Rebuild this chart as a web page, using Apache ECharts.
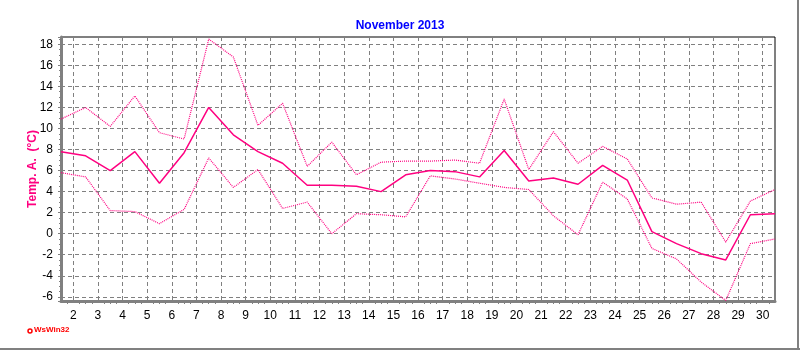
<!DOCTYPE html>
<html>
<head>
<meta charset="utf-8">
<script src="https://cdn.jsdelivr.net/npm/echarts@6/dist/echarts.min.js"></script>
<style>
  html, body { margin: 0; padding: 0; background: #fff; }
  #chart { width: 800px; height: 350px; }
</style>
</head>
<body>
<div id="chart"></div>
<script>
// readings taken at mid-day, November 2013
const days = [1.5, 2.5, 3.5, 4.5, 5.5, 6.5, 7.5, 8.5, 9.5, 10.5,
  11.5, 12.5, 13.5, 14.5, 15.5, 16.5, 17.5, 18.5, 19.5, 20.5,
  21.5, 22.5, 23.5, 24.5, 25.5, 26.5, 27.5, 28.5, 29.5, 30.5];

const tempMean = [7.8, 7.4, 6.0, 7.8, 4.8, 7.7, 12.0, 9.4, 7.8, 6.7,
  4.6, 4.6, 4.5, 4.0, 5.6, 6.0, 5.9, 5.4, 7.9, 5.0,
  5.3, 4.7, 6.5, 5.1, 0.2, -0.95, -1.9, -2.5, 1.8, 1.9];

const tempMax = [10.9, 12.0, 10.2, 13.1, 9.6, 9.0, 18.5, 16.8, 10.3, 12.4,
  6.4, 8.7, 5.6, 6.8, 6.9, 6.9, 7.0, 6.7, 12.8, 6.1,
  9.7, 6.7, 8.3, 7.1, 3.4, 2.8, 3.0, -0.8, 3.1, 4.2];

const tempMin = [5.8, 5.4, 2.2, 2.1, 0.95, 2.3, 7.2, 4.4, 6.1, 2.4,
  3.0, 0.0, 1.9, 1.8, 1.6, 5.5, 5.2, 4.8, 4.4, 4.2,
  1.7, -0.1, 4.9, 3.3, -1.4, -2.4, -4.6, -6.35, -0.95, -0.5];

const pink = '#FF0080';
const font = 'Liberation Sans, Arial, sans-serif';

const pairs = vals => days.map((d, i) => [d, vals[i]]);

const chart = echarts.init(document.getElementById('chart'));
chart.setOption({
  animation: false,
  backgroundColor: '#fff',
  title: {
    text: 'November 2013',
    left: 'center',
    top: 15,
    textStyle: { color: '#0000FF', fontSize: 12, fontWeight: 'bold', fontFamily: font }
  },
  grid: {
    left: 61, right: 25, top: 37, bottom: 49,
    show: true, borderColor: '#000', borderWidth: 1
  },
  xAxis: {
    type: 'value',
    min: 1.5,
    max: 30.5,
    splitNumber: 30,
    axisLine: { onZero: false, lineStyle: { color: '#808080', width: 3 } },
    axisTick: { show: false },
    minorTick: { show: true, splitNumber: 4, length: 3, lineStyle: { color: '#808080' } },
    axisLabel: {
      color: '#000', fontSize: 12, fontFamily: font, margin: 9,
      formatter: v => (Number.isInteger(v) ? String(v) : '')
    },
    splitLine: { show: true, lineStyle: { color: '#808080', type: [4, 3] } }
  },
  yAxis: {
    type: 'value',
    min: -6.4,
    max: 18.7,
    splitNumber: 12,
    name: 'Temp. A.  (°C)',
    nameLocation: 'middle',
    nameGap: 22,
    nameMoveOverlap: false,
    nameTextStyle: { color: pink, fontWeight: 'bold', fontSize: 12, fontFamily: font },
    axisLine: { show: true, onZero: false, lineStyle: { color: '#808080', width: 3 } },
    axisTick: { show: true, length: 3, lineStyle: { color: '#808080' } },
    minorTick: { show: true, splitNumber: 4, length: 2, lineStyle: { color: '#808080' } },
    axisLabel: {
      color: '#000', fontSize: 12, fontFamily: font, margin: 8,
      formatter: v => (Number.isInteger(v) ? String(v) : '')
    },
    splitLine: { show: true, lineStyle: { color: '#808080', type: [4, 3] } }
  },
  series: [
    {
      name: 'max', type: 'line', data: pairs(tempMax), symbol: 'none',
      lineStyle: { color: pink, width: 1.2, type: [1, 1] }
    },
    {
      name: 'mean', type: 'line', data: pairs(tempMean), symbol: 'none',
      lineStyle: { color: pink, width: 1.5 }
    },
    {
      name: 'min', type: 'line', data: pairs(tempMin), symbol: 'none',
      lineStyle: { color: pink, width: 1.2, type: [1, 1] }
    }
  ],
  graphic: [
    { type: 'circle', shape: { cx: 30, cy: 331, r: 2 }, style: { fill: '#fff', stroke: '#FF0000', lineWidth: 1.5 } },
    { type: 'text', left: 34, top: 326, style: { text: 'WsWin32', fill: '#FF0000', font: 'bold 8px ' + font } },
    { type: 'rect', shape: { x: 797, y: 0, width: 2, height: 350 }, style: { fill: '#808080' } },
    { type: 'rect', shape: { x: 0, y: 348, width: 800, height: 2 }, style: { fill: '#808080' } }
  ]
});
</script>
</body>
</html>
